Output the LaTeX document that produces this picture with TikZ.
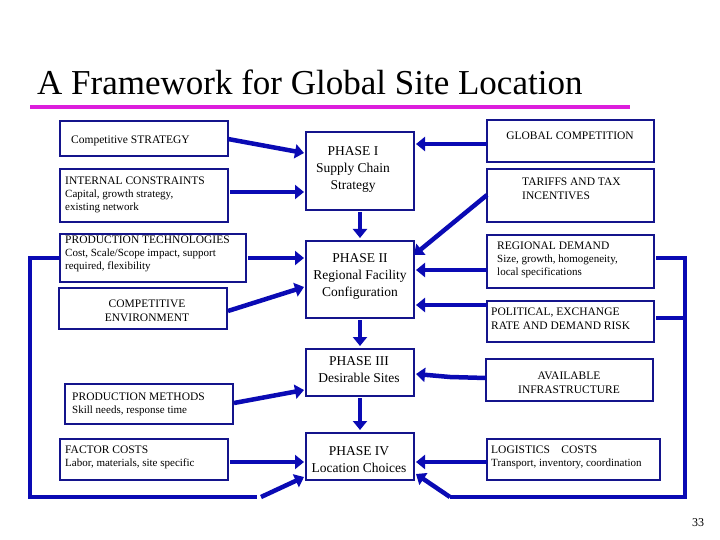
\documentclass[tikz,border=0pt]{standalone}
\usepackage{fontspec}
\setmainfont{Liberation Serif}
\usetikzlibrary{arrows.meta}
\definecolor{bx}{RGB}{20,20,140}
\definecolor{ar}{RGB}{10,10,180}
\definecolor{mag}{RGB}{220,30,220}
\begin{document}
\begin{tikzpicture}[x=1pt,y=-1pt,
  box/.style={draw=bx,line width=1.6pt},
  t/.style={inner sep=0pt,align=left,font=\fontsize{11.5}{14}\selectfont},
  tc/.style={inner sep=0pt,align=center,font=\fontsize{11.5}{14}\selectfont},
  ph/.style={inner sep=0pt,align=center,font=\fontsize{13.5}{17}\selectfont},
  arr/.style={draw=ar,line width=4.5pt,-{Triangle[length=9pt,width=14pt]}},
  ln/.style={draw=ar,line width=4.5pt}]
\useasboundingbox (0,0) rectangle (720,540);
\node[anchor=base west,inner sep=0pt,font=\fontsize{35}{40}\selectfont] (title) at (37,95) {A Framework for Global Site Location};
\draw[mag,line width=4pt] (30,107) -- (630,107);
% left boxes
\draw[box] (60,121) rectangle (228,156);
\node[t,anchor=base west] (cs) at (71,144) {Competitive STRATEGY};
\draw[box] (60,169) rectangle (228,222);
\node[t,anchor=north west] (ic) at (65,177) {INTERNAL CONSTRAINTS\\[-1pt]{\fontsize{11}{14}\selectfont Capital, growth strategy,}\\[-1pt]{\fontsize{11}{14}\selectfont existing network}};
\draw[box] (60,234) rectangle (246,282);
\node[t,anchor=north west] (pt) at (65,236) {PRODUCTION TECHNOLOGIES\\[-1pt]{\fontsize{11}{14}\selectfont Cost, Scale/Scope impact, support}\\[-1pt]{\fontsize{11}{14}\selectfont required, flexibility}};
\draw[box] (59,288) rectangle (227,329);
\node[tc] (ce) at (147,311) {COMPETITIVE\\ENVIRONMENT};
\draw[box] (65,384) rectangle (233,424);
\node[t,anchor=north west] (pm) at (72,393) {PRODUCTION METHODS\\[-1pt]{\fontsize{11}{14}\selectfont Skill needs, response time}};
\draw[box] (60,439) rectangle (228,480);
\node[t,anchor=north west] (fc) at (65,446) {FACTOR COSTS\\[-1pt]{\fontsize{11}{14}\selectfont Labor, materials, site specific}};
% phases
\draw[box] (306,132) rectangle (414,210);
\node[ph] (p1) at (353,169) {PHASE I\\Supply Chain\\Strategy};
\draw[box] (306,241) rectangle (414,318);
\node[ph] (p2) at (360,276) {PHASE II\\Regional Facility\\Configuration};
\draw[box] (306,349) rectangle (414,396);
\node[ph] (p3) at (359,370) {PHASE III\\Desirable Sites};
\draw[box] (306,433) rectangle (414,480);
\node[ph] (p4) at (359,460) {PHASE IV\\Location Choices};
% right boxes
\draw[box] (487,120) rectangle (654,162);
\node[tc] (gc) at (570,136) {GLOBAL COMPETITION};
\draw[box] (487,169) rectangle (654,222);
\node[t,anchor=north west] (tt) at (522,178) {TARIFFS AND TAX\\INCENTIVES};
\draw[box] (487,235) rectangle (654,288);
\node[t,anchor=north west] (rd) at (497,242) {REGIONAL DEMAND\\[-1pt]{\fontsize{11}{14}\selectfont Size, growth, homogeneity,}\\[-1pt]{\fontsize{11}{14}\selectfont local specifications}};
\draw[box] (487,301) rectangle (654,342);
\node[t,anchor=north west] (po) at (491,308) {POLITICAL, EXCHANGE\\RATE AND DEMAND RISK};
\draw[box] (486,359) rectangle (653,401);
\node[tc] (ai) at (569,383) {AVAILABLE\\INFRASTRUCTURE};
\draw[box] (487,439) rectangle (660,480);
\node[t,anchor=north west] (lc) at (491,446) {LOGISTICS\quad COSTS\\[-1pt]{\fontsize{11}{14}\selectfont Transport, inventory, coordination}};
% coordinates for arrows
\coordinate (a1) at (228,139); \coordinate (b1) at (304,153);
\coordinate (a2) at (230,192); \coordinate (b2) at (304,192);
\coordinate (a3) at (248,258); \coordinate (b3) at (304,258);
\coordinate (a4) at (228,311); \coordinate (b4) at (304,287);
\coordinate (a5) at (234,403); \coordinate (b5) at (304,390);
\coordinate (a6) at (230,462); \coordinate (b6) at (304,462);
\draw[arr] (a1) -- (b1);
\draw[arr] (a2) -- (b2);
\draw[arr] (a3) -- (b3);
\draw[arr] (a4) -- (b4);
\draw[arr] (a5) -- (b5);
\draw[arr] (a6) -- (b6);
\coordinate (l1) at (60,258); \coordinate (l2) at (30,497); \coordinate (l3) at (257,497);
\draw[ln] (l1) -- (30,258) -- (l2) -- (l3);
\coordinate (l4) at (261,497); \coordinate (l5) at (304,477);
\draw[arr] (l4) -- (l5);
% right arrows
\coordinate (r1) at (487,144); \coordinate (s1) at (416,144);
\coordinate (r2) at (487,195); \coordinate (s2) at (414,255);
\coordinate (r3) at (487,270); \coordinate (s3) at (416,270);
\coordinate (r4) at (487,305); \coordinate (s4) at (416,305);
\coordinate (r5) at (486,378); \coordinate (s5) at (416,374);
\coordinate (r6) at (487,462); \coordinate (s6) at (416,462);
\draw[arr] (r1) -- (s1);
\draw[arr] (r2) -- (s2);
\draw[arr] (r3) -- (s3);
\draw[arr] (r4) -- (s4);
\draw[arr] (r5) -- (450,377) -- (s5);
\draw[arr] (r6) -- (s6);
\coordinate (q1) at (656,258); \coordinate (q2) at (685,497); \coordinate (q3) at (450,497);
\coordinate (q4) at (656,318);
\draw[ln] (q1) -- (685,258) -- (q2) -- (q3);
\draw[ln] (q4) -- (685,318);
\draw[arr] (q3) -- (416,474);
% vertical
\draw[arr] (360,212) -- (360,238);
\draw[arr] (360,320) -- (360,346);
\draw[arr] (360,398) -- (360,430);
\node[inner sep=0pt,font=\fontsize{12}{14}\selectfont] (pg) at (698,523) {33};
\end{tikzpicture}
\end{document}
